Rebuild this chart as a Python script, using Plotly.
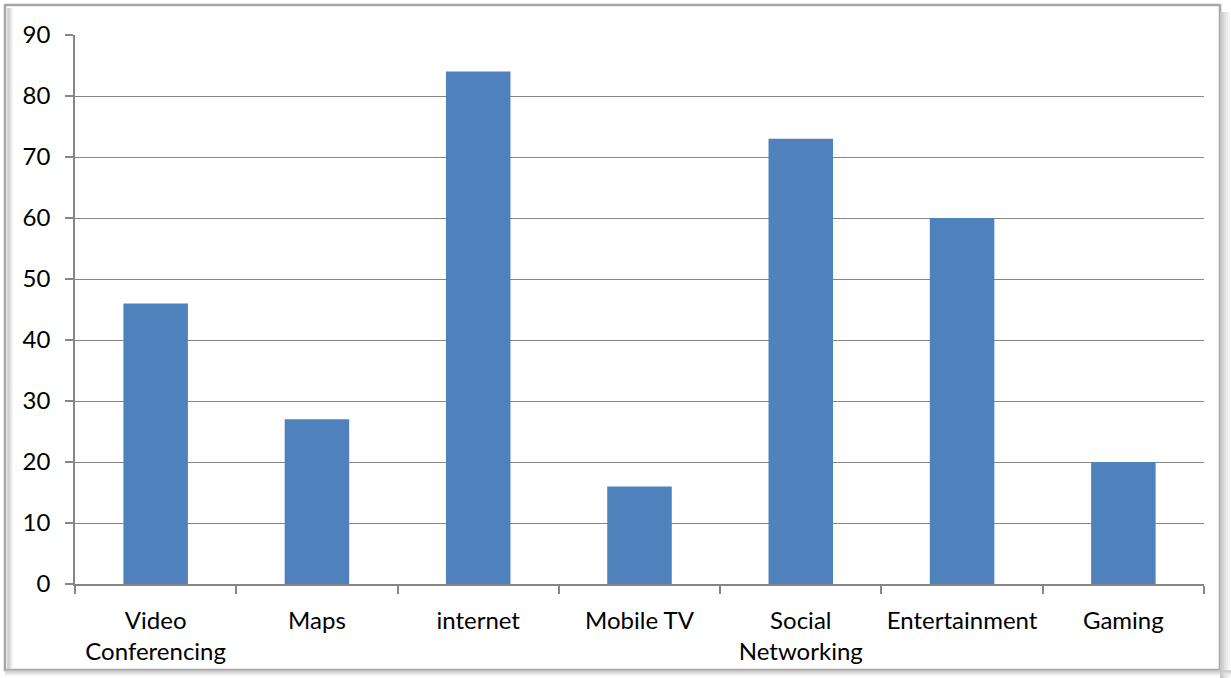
import plotly.graph_objects as go

categories = ["Video<br>Conferencing", "Maps", "internet", "Mobile TV",
              "Social<br>Networking", "Entertainment", "Gaming"]
values = [46, 27, 84, 16, 73, 60, 20]
y_ticks = [0, 10, 20, 30, 40, 50, 60, 70, 80, 90]

W, H = 1231, 678
ML, MR, MT, MB = 75, 27, 35, 94
PW, PH = W - ML - MR, H - MT - MB

def px_x(p):
    return (p - ML) / PW

def px_y(p):
    return 1 - (p - MT) / PH

fig = go.Figure(go.Bar(x=categories, y=values, marker=dict(color="#4F81BD", line=dict(width=0)),
                       width=0.4, hoverinfo="skip"))

grid = "#868686"
fig.update_layout(
    width=W, height=H,
    margin=dict(l=ML, r=MR, t=MT, b=MB),
    paper_bgcolor="white", plot_bgcolor="white",
    font=dict(family="Lato, Open Sans, sans-serif", size=24, color="#000000"),
    showlegend=False,
    bargap=0.6,
)
fig.update_xaxes(
    showline=True, linecolor=grid, linewidth=1.5,
    ticks="outside", ticklen=8, tickcolor=grid, tickwidth=1.5,
    tickson="boundaries", showgrid=False, ticklabelstandoff=14,
)
fig.update_yaxes(
    range=[0, 90], tickvals=y_ticks, showgrid=True, gridcolor=grid, gridwidth=1.2,
    showline=True, linecolor=grid, linewidth=1.5,
    ticks="outside", ticklen=8, tickcolor=grid, tickwidth=1.5,
    zeroline=False, ticklabelstandoff=10,
)

# outer chart frame with soft shadow
shapes = []
shade = ["#f4f4f4", "#ebebeb", "#e0e0e0", "#d4d4d4", "#c8c8c8"]
for i, c in enumerate(shade):
    off = len(shade) - 1 - i
    # right shadow (outside)
    shapes.append(dict(type="line", xref="paper", yref="paper",
                       x0=px_x(1221 + off * 2), x1=px_x(1221 + off * 2), y0=px_y(12), y1=px_y(H),
                       line=dict(color=c, width=2)))
    # bottom shadow (outside)
    shapes.append(dict(type="line", xref="paper", yref="paper",
                       x0=px_x(5), x1=px_x(W), y0=px_y(671 + off), y1=px_y(671 + off),
                       line=dict(color=c, width=1.5)))
    # left inner shadow
    shapes.append(dict(type="line", xref="paper", yref="paper",
                       x0=px_x(8 + off), x1=px_x(8 + off), y0=px_y(8), y1=px_y(669),
                       line=dict(color=c, width=1.5)))
shapes.append(dict(type="rect", xref="paper", yref="paper",
                   x0=px_x(5), x1=px_x(1220), y0=px_y(670), y1=px_y(5),
                   line=dict(color="#a6a6a6", width=2.5), layer="below"))
fig.update_layout(shapes=shapes)

fig.write_html("out.html", config={"displayModeBar": False},
               post_script="document.body.style.margin='0';document.body.style.overflow='hidden';")
